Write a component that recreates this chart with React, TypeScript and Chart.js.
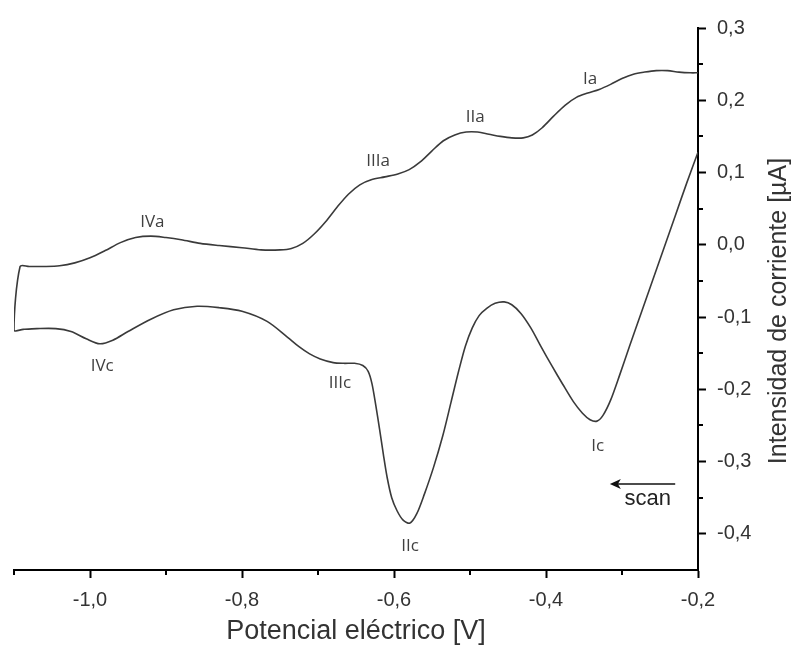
import React, { useEffect, useRef } from "react";
import { Chart, registerables } from "chart.js";

Chart.register(...registerables);

// Potential [V] and current [µA] along the scan path (cathodic sweep to the left, then anodic back)
const potentialV: number[] = [
  -0.200, -0.215, -0.230, -0.245, -0.260, -0.275, -0.290, -0.303, -0.315, -0.325,
  -0.333, -0.342, -0.352, -0.364, -0.378, -0.392, -0.406, -0.420, -0.433, -0.445,
  -0.455, -0.467, -0.478, -0.488, -0.497, -0.506, -0.515, -0.525, -0.536, -0.548,
  -0.560, -0.570, -0.579, -0.588, -0.596, -0.603, -0.609, -0.614, -0.619, -0.624,
  -0.629, -0.634, -0.641, -0.652, -0.666, -0.680, -0.697, -0.711, -0.725, -0.740,
  -0.767, -0.800, -0.830, -0.859, -0.890, -0.920, -0.950, -0.970, -0.987, -1.005,
  -1.025, -1.045, -1.070, -1.088, -1.100,
  -1.092,
  -1.080, -1.060, -1.040, -1.020, -1.000, -0.980, -0.960, -0.940, -0.920, -0.900,
  -0.880, -0.855, -0.830, -0.800, -0.775, -0.750, -0.735, -0.720, -0.705, -0.690,
  -0.675, -0.660, -0.645, -0.630, -0.612, -0.595, -0.580, -0.565, -0.550, -0.535,
  -0.520, -0.505, -0.490, -0.475, -0.460, -0.445, -0.430, -0.418, -0.405, -0.390,
  -0.375, -0.360, -0.345, -0.330, -0.315, -0.300, -0.285, -0.270, -0.255, -0.240,
  -0.225, -0.210, -0.200,
];
const currentUA: number[] = [
  0.128, 0.085, 0.040, -0.005, -0.050, -0.095, -0.140, -0.180, -0.215, -0.236,
  -0.244, -0.242, -0.233, -0.217, -0.193, -0.168, -0.142, -0.115, -0.095, -0.083,
  -0.079, -0.081, -0.088, -0.098, -0.115, -0.140, -0.175, -0.218, -0.265, -0.308,
  -0.345, -0.372, -0.385, -0.381, -0.368, -0.350, -0.322, -0.290, -0.255, -0.222,
  -0.192, -0.175, -0.167, -0.164, -0.164, -0.163, -0.158, -0.151, -0.141, -0.128,
  -0.106, -0.092, -0.087, -0.085, -0.090, -0.103, -0.120, -0.132, -0.137, -0.130,
  -0.120, -0.116, -0.116, -0.117, -0.118,
  -0.030,
  -0.030, -0.030, -0.029, -0.025, -0.018, -0.008, 0.003, 0.010, 0.012, 0.010,
  0.007, 0.002, -0.001, -0.004, -0.007, -0.007, -0.005, 0.002, 0.015, 0.032,
  0.052, 0.070, 0.083, 0.090, 0.094, 0.098, 0.104, 0.115, 0.130, 0.144,
  0.152, 0.156, 0.156, 0.153, 0.150, 0.148, 0.148, 0.152, 0.162, 0.178,
  0.193, 0.204, 0.210, 0.215, 0.222, 0.230, 0.236, 0.239, 0.241, 0.241,
  0.239, 0.238, 0.238,
];

const xTickValues: number[] = [-1.0, -0.8, -0.6, -0.4, -0.2];
const xMinorTicks: number[] = [-1.1, -0.9, -0.7, -0.5, -0.3];
const yTickValues: number[] = [-0.4, -0.3, -0.2, -0.1, 0.0, 0.1, 0.2, 0.3];
const yMinorTicks: number[] = [-0.35, -0.25, -0.15, -0.05, 0.05, 0.15, 0.25];

const peakLabels: string[] = ["IVa", "IIIa", "IIa", "Ia", "IVc", "IIIc", "IIc", "Ic"];
const peakLabelV: number[] = [-0.918, -0.621, -0.493, -0.342, -0.984, -0.671, -0.579, -0.332];
const peakLabelI: number[] = [0.032, 0.116, 0.177, 0.229, -0.168, -0.192, -0.417, -0.279];

const scanText = "scan";
const scanTextAt: number[] = [-0.266, -0.352];
const arrowFrom: number[] = [-0.230, -0.331];
const arrowTo: number[] = [-0.316, -0.331];

const xTitle = "Potencial eléctrico [V]";
const yTitle = "Intensidad de corriente [µA]";

const fmt = (v: number) => (Math.abs(v) < 1e-9 ? 0 : v).toFixed(1).replace(".", ",");

const overlayPlugin = {
  id: "overlay",
  afterDraw(chart: any) {
    const { ctx, scales, chartArea } = chart;
    const xs = scales.x;
    const ys = scales.y;
    ctx.save();
    // minor ticks
    ctx.strokeStyle = "#000";
    ctx.lineWidth = 2;
    ctx.beginPath();
    xMinorTicks.forEach((v) => {
      const px = Math.round(xs.getPixelForValue(v));
      ctx.moveTo(px, chartArea.bottom);
      ctx.lineTo(px, chartArea.bottom + 5);
    });
    yMinorTicks.forEach((v) => {
      const py = Math.round(ys.getPixelForValue(v));
      ctx.moveTo(chartArea.right, py);
      ctx.lineTo(chartArea.right + 5, py);
    });
    ctx.stroke();

    // peak labels
    ctx.fillStyle = "#404040";
    ctx.font = "17px 'Open Sans'";
    ctx.textAlign = "center";
    ctx.textBaseline = "middle";
    peakLabels.forEach((t, i) => {
      ctx.fillText(t, xs.getPixelForValue(peakLabelV[i]), ys.getPixelForValue(peakLabelI[i]));
    });

    // scan arrow
    const ax1 = xs.getPixelForValue(arrowFrom[0]);
    const ay = ys.getPixelForValue(arrowFrom[1]);
    const ax2 = xs.getPixelForValue(arrowTo[0]);
    ctx.strokeStyle = "#111";
    ctx.lineWidth = 1.6;
    ctx.beginPath();
    ctx.moveTo(ax1, ay);
    ctx.lineTo(ax2 + 6, ay);
    ctx.stroke();
    ctx.fillStyle = "#111";
    ctx.beginPath();
    ctx.moveTo(ax2, ay);
    ctx.lineTo(ax2 + 11, ay - 5);
    ctx.lineTo(ax2 + 8, ay);
    ctx.lineTo(ax2 + 11, ay + 5);
    ctx.closePath();
    ctx.fill();

    ctx.fillStyle = "#222";
    ctx.font = "22px 'Liberation Sans'";
    ctx.fillText(scanText, xs.getPixelForValue(scanTextAt[0]), ys.getPixelForValue(scanTextAt[1]));

    // y title (reads bottom to top)
    ctx.fillStyle = "#333";
    ctx.font = "25px 'Liberation Sans'";
    ctx.translate(779, (chartArea.top + chartArea.bottom) / 2 + 12);
    ctx.rotate(-Math.PI / 2);
    ctx.fillText(yTitle, 0, 0);
    ctx.restore();
  },
};

export default function App() {
  const ref = useRef<HTMLCanvasElement | null>(null);
  useEffect(() => {
    if (!ref.current) return;
    const chart = new Chart(ref.current, {
      type: "line",
      data: {
        datasets: [
          {
            data: potentialV.map((v, i) => ({ x: v, y: currentUA[i] })),
            borderColor: "#3a3a3a",
            borderWidth: 1.6,
            pointRadius: 0,
            tension: 0.3,
            fill: false,
          },
        ],
      },
      options: {
        animation: false,
        responsive: false,
        devicePixelRatio: 1,
        layout: { padding: { top: 28, left: 14, right: 0, bottom: 0 } },
        plugins: { legend: { display: false }, tooltip: { enabled: false } },
        scales: {
          x: {
            type: "linear",
            position: "bottom",
            min: -1.1,
            max: -0.2,
            afterBuildTicks: (s: any) => {
              s.ticks = xTickValues.map((v) => ({ value: v }));
            },
            afterFit: (s: any) => {
              s.height = 84;
            },
            ticks: {
              callback: (v: any) => fmt(Number(v)),
              font: { family: "'Liberation Sans'", size: 20 },
              color: "#333",
              padding: 10,
              maxRotation: 0,
              autoSkip: false,
            },
            grid: { display: true, drawOnChartArea: false, drawTicks: true, tickLength: 8, tickColor: "#000", tickWidth: 2 },
            border: { display: true, color: "#000", width: 2 },
            title: {
              display: true,
              text: xTitle,
              font: { family: "'Liberation Sans'", size: 27 },
              color: "#333",
              padding: { top: 0, bottom: 6 },
            },
          },
          y: {
            type: "linear",
            position: "right",
            min: -0.45,
            max: 0.3,
            afterBuildTicks: (s: any) => {
              s.ticks = yTickValues.map((v) => ({ value: v }));
            },
            afterFit: (s: any) => {
              s.width = 97;
            },
            ticks: {
              callback: (v: any) => fmt(Number(v)),
              font: { family: "'Liberation Sans'", size: 20 },
              color: "#333",
              padding: 11,
              autoSkip: false,
            },
            grid: { display: true, drawOnChartArea: false, drawTicks: true, tickLength: 8, tickColor: "#000", tickWidth: 2 },
            border: { display: true, color: "#000", width: 2 },
          },
        },
      },
      plugins: [overlayPlugin],
    });
    return () => chart.destroy();
  }, []);
  return (
    <div style={{ position: "absolute", left: 0, top: 0, width: 795, height: 654, background: "#fff" }}>
      <canvas ref={ref} width={795} height={654} style={{ display: "block" }} />
    </div>
  );
}
